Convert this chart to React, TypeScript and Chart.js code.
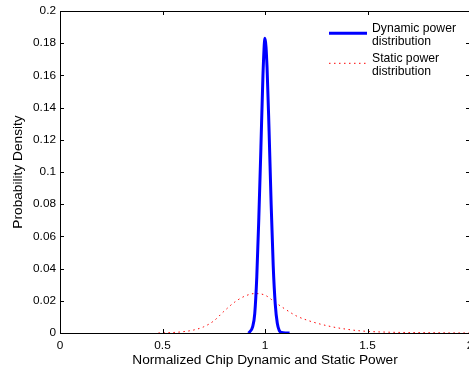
import React, { useEffect, useRef } from "react";
import { Chart, registerables } from "chart.js";

Chart.register(...registerables);

const dynX = [0.92, 0.94, 0.95, 0.96, 0.97, 0.98, 0.99, 1.0, 1.01, 1.02, 1.03, 1.04, 1.05, 1.06, 1.07, 1.08, 1.1, 1.12];
const dynY = [0, 0.004, 0.012, 0.035, 0.072, 0.115, 0.16, 0.183, 0.165, 0.125, 0.08, 0.042, 0.018, 0.006, 0.0015, 0.0003, 0, 0];

const staX = [0.48, 0.55, 0.6, 0.65, 0.7, 0.75, 0.8, 0.85, 0.9, 0.95, 1.0, 1.05, 1.1, 1.15, 1.2, 1.25, 1.3, 1.35, 1.4, 1.45, 1.5, 1.6, 1.7, 1.8, 1.9, 2.0];
const staY = [0, 0.0003, 0.0008, 0.0018, 0.0038, 0.0075, 0.0135, 0.019, 0.0228, 0.0245, 0.0235, 0.019, 0.0147, 0.0108, 0.0082, 0.0062, 0.0046, 0.0033, 0.0023, 0.0015, 0.001, 0.0005, 0.0003, 0.0002, 0.0001, 0];

const seriesLabels = [["Dynamic power", "distribution"], ["Static power", "distribution"]];
const xTickLabels = ["0", "0.5", "1", "1.5", "2"];
const yTickLabels = ["0", "0.02", "0.04", "0.06", "0.08", "0.1", "0.12", "0.14", "0.16", "0.18", "0.2"];
const xTitle = "Normalized Chip Dynamic and Static Power";
const yTitle = "Probability Density";

const FONT = "'Liberation Sans', Arial, Helvetica, sans-serif";

const boxPlugin = {
  id: "matlabBox",
  afterDraw(chart: any) {
    const ctx = chart.ctx;
    const { left, right, top, bottom } = chart.chartArea;
    const xs = chart.scales.x;
    const ys = chart.scales.y;
    ctx.save();
    ctx.strokeStyle = "#000";
    ctx.lineWidth = 1;
    ctx.beginPath();
    ctx.rect(Math.round(left) + 0.5, Math.round(top) + 0.5, Math.round(right - left), Math.round(bottom - top));
    ctx.stroke();
    const tl = 4;
    ctx.beginPath();
    xs.ticks.forEach((t: any) => {
      const px = Math.round(xs.getPixelForValue(t.value)) + 0.5;
      ctx.moveTo(px, bottom);
      ctx.lineTo(px, bottom - tl);
      ctx.moveTo(px, top);
      ctx.lineTo(px, top + tl);
    });
    ys.ticks.forEach((t: any) => {
      const py = Math.round(ys.getPixelForValue(t.value)) + 0.5;
      ctx.moveTo(left, py);
      ctx.lineTo(left + tl, py);
      ctx.moveTo(right, py);
      ctx.lineTo(right - tl, py);
    });
    ctx.stroke();

    // legend
    const lx0 = 329, lx1 = 367, tx = 372;
    const starts = [28.3, 58.3];
    ctx.font = "12.2px " + FONT;
    ctx.textBaseline = "middle";
    ctx.textAlign = "left";
    chart.data.datasets.forEach((ds: any, i: number) => {
      const y0 = starts[i];
      const ly = y0 + 5;
      ctx.strokeStyle = ds.borderColor;
      ctx.lineWidth = ds.borderWidth;
      ctx.setLineDash(ds.borderDash || []);
      ctx.beginPath();
      ctx.moveTo(lx0, ly);
      ctx.lineTo(lx1, ly);
      ctx.stroke();
      ctx.setLineDash([]);
      ctx.fillStyle = "#000";
      seriesLabels[i].forEach((line, j) => {
        ctx.fillText(line, tx, y0 + j * 13.7);
      });
    });
    ctx.restore();
  },
};

export default function App() {
  const ref = useRef<HTMLCanvasElement>(null);
  useEffect(() => {
    if (!ref.current) return;
    const chart = new Chart(ref.current, {
      type: "line",
      data: {
        datasets: [
          {
            label: seriesLabels[0].join(" "),
            data: dynX.map((x, i) => ({ x, y: dynY[i] })),
            borderColor: "#0000ff",
            borderWidth: 3,
            pointRadius: 0,
            cubicInterpolationMode: "monotone",
            fill: false,
          },
          {
            label: seriesLabels[1].join(" "),
            data: staX.map((x, i) => ({ x, y: staY[i] })),
            borderColor: "#ff0000",
            borderWidth: 1,
            borderDash: [1.5, 3.5],
            pointRadius: 0,
            cubicInterpolationMode: "monotone",
            fill: false,
          },
        ],
      },
      options: {
        responsive: false,
        animation: false,
        layout: { padding: { left: 0, top: 11, right: 1, bottom: 0 } },
        plugins: { legend: { display: false }, tooltip: { enabled: false } },
        scales: {
          x: {
            type: "linear",
            min: 0,
            max: 2,
            grid: { display: false, drawTicks: false },
            border: { display: false },
            ticks: {
              stepSize: 0.5,
              padding: 6,
              maxRotation: 0,
              color: "#000",
              font: { family: FONT, size: 11.8 },
              callback: (_v: any, i: number) => xTickLabels[i],
            },
            title: {
              display: true,
              text: xTitle,
              color: "#000",
              font: { family: FONT, size: 13.7 },
              padding: { top: 0, bottom: 6 },
            },
            afterFit: (s: any) => {
              s.height = 41;
              s.paddingLeft = 0;
              s.paddingRight = 0;
            },
          },
          y: {
            type: "linear",
            min: 0,
            max: 0.2,
            grid: { display: false, drawTicks: false },
            border: { display: false },
            ticks: {
              stepSize: 0.02,
              padding: 4,
              color: "#000",
              font: { family: FONT, size: 11.8 },
              callback: (_v: any, i: number) => yTickLabels[i],
            },
            title: {
              display: true,
              text: yTitle,
              color: "#000",
              font: { family: FONT, size: 13.7 },
              padding: { top: 10.5, bottom: 0 },
            },
            afterFit: (s: any) => {
              s.width = 60;
              s.paddingTop = 0;
              s.paddingBottom = 0;
            },
          },
        },
      } as any,
      plugins: [boxPlugin],
    });
    return () => chart.destroy();
  }, []);
  return (
    <div style={{ position: "absolute", left: 0, top: 0, width: 469, height: 374, overflow: "hidden" }}>
      <canvas ref={ref} width={471} height={374} style={{ display: "block" }} />
    </div>
  );
}
